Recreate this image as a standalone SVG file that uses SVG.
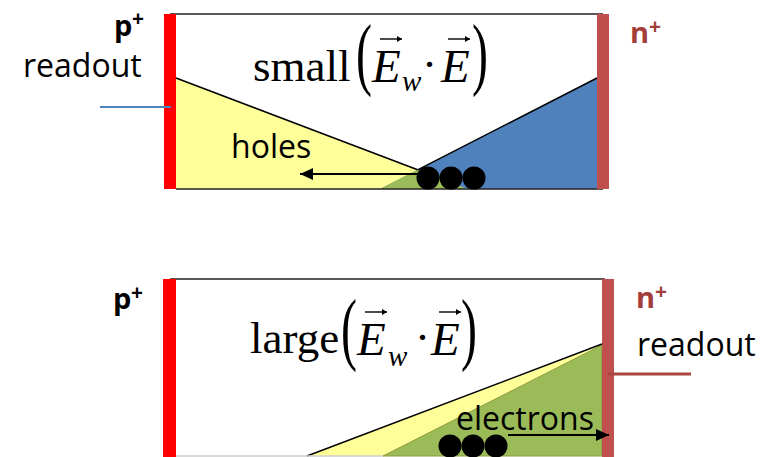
<svg xmlns="http://www.w3.org/2000/svg" width="782" height="457" viewBox="0 0 782 457">
<style>
.lbl{font-family:"Open Sans","Liberation Sans",sans-serif;font-size:32px;fill:#000}
.bold{font-family:"Open Sans","Liberation Sans",sans-serif;font-weight:bold;font-size:29px}
.sup{font-size:21px}
.pk{fill:#000}
.nk{fill:#A33E3B}
.rm{font-family:"Liberation Serif","Times New Roman",serif;font-size:45px;fill:#000}
.it{font-family:"Liberation Serif","Times New Roman",serif;font-style:italic;font-size:47px;fill:#000}
.sub{font-family:"Liberation Serif","Times New Roman",serif;font-style:italic;font-size:29px;fill:#000}
.par{font-family:"Liberation Serif","Times New Roman",serif;font-size:80px;fill:#000}
.vec{stroke:#000;stroke-width:1.4;fill:none}
.edge{stroke:#000;stroke-width:1.5;fill:none}
.box{stroke:#222;stroke-width:1.5}
.arr{stroke:#000;stroke-width:2;fill:none;marker-end:url(#ah)}
.dot{fill:#000}
.yel{fill:#FFFF99}
.blu{fill:#4F81BD}
.grn{fill:#9BBB59}
.pbar{fill:#FF0000}
.nbar{fill:#C0504D}
</style>
<defs>
<marker id="ah" markerUnits="userSpaceOnUse" markerWidth="14" markerHeight="12" refX="13" refY="6" orient="auto">
<path d="M0,0 L13,6 L0,12 Z" fill="#000"/>
</marker>
<marker id="vh" markerUnits="userSpaceOnUse" markerWidth="6" markerHeight="6" refX="5" refY="3" orient="auto">
<path d="M0,0 L5,3 L0,6 Z" fill="#000"/>
</marker>
</defs>

<!-- Top panel: small -->
<g id="top-panel">
  <polygon class="yel" points="176,78 468,189 176,189"/>
  <polygon class="blu" points="597,78 380,189 597,189"/>
  <polygon class="grn" points="380,189 417.6,169.8 468,189"/>
  <line class="edge" x1="176" y1="78" x2="417.6" y2="169.8"/>
  <line class="edge" x1="417.6" y1="169.8" x2="597" y2="78"/>
  <line class="box" x1="170" y1="14" x2="603" y2="14"/>
  <line class="box" x1="176" y1="189" x2="603" y2="189"/>
  <rect class="pbar" x="164" y="14" width="12" height="175"/>
  <rect class="nbar" x="597" y="14" width="12" height="175"/>
</g>
<g id="top-carriers">
  <circle class="dot" cx="428" cy="178" r="11.5"/>
  <circle class="dot" cx="451" cy="178" r="11.5"/>
  <circle class="dot" cx="474" cy="178" r="11.5"/>
</g>
<g id="top-labels">
  <text class="bold pk" x="114" y="36">p<tspan class="sup" x="132" y="26">+</tspan></text>
  <text class="lbl" x="23" y="77">readout</text>
  <text class="bold nk" x="630" y="43">n<tspan class="sup" x="649" y="34">+</tspan></text>
  <text class="lbl" x="231" y="158">holes</text>
</g>
<g id="top-equation">
  <text class="rm" x="253" y="81">small</text>
  <text class="par" transform="translate(356,80) scale(0.6,1)">(</text>
  <text class="it" x="372" y="82">E</text>
  <line class="vec" x1="380" y1="39" x2="402" y2="39" marker-end="url(#vh)"/>
  <text class="sub" x="402" y="91">w</text>
  <text class="rm" x="422" y="79">·</text>
  <text class="it" x="441" y="82">E</text>
  <line class="vec" x1="448" y1="39" x2="470" y2="39" marker-end="url(#vh)"/>
  <text class="par" transform="translate(472,80) scale(0.6,1)">)</text>
</g>

<!-- Bottom panel: large -->
<g id="bottom-panel">
  <polygon class="yel" points="602,345 307,456 602,456"/>
  <polygon class="grn" points="602,345 383,456 602,456" stroke="#8C9A3E" stroke-width="1"/>
  <line class="edge" x1="307" y1="456" x2="602" y2="344"/>
  <line class="box" x1="170" y1="279" x2="605" y2="279"/>
  <line x1="176" y1="456" x2="383" y2="456" stroke="#cccccc" stroke-width="1.5"/>
  <rect class="pbar" x="163" y="279" width="13" height="178"/>
  <rect class="nbar" x="602" y="279" width="12" height="178"/>
</g>
<g id="bottom-carriers">
  <circle class="dot" cx="450" cy="446" r="11.5"/>
  <circle class="dot" cx="473" cy="446" r="11.5"/>
  <circle class="dot" cx="496" cy="446" r="11.5"/>
</g>
<g id="bottom-labels">
  <text class="bold pk" x="113" y="309">p<tspan class="sup" x="131" y="300">+</tspan></text>
  <text class="bold nk" x="636" y="308">n<tspan class="sup" x="655" y="299">+</tspan></text>
  <text class="lbl" x="637" y="356">readout</text>
  <text class="lbl" x="456" y="430">electrons</text>
</g>
<g id="bottom-equation">
  <text class="rm" x="250" y="353">large</text>
  <text class="par" transform="translate(341,355) scale(0.6,1)">(</text>
  <text class="it" x="357" y="355">E</text>
  <line class="vec" x1="365" y1="312" x2="387" y2="312" marker-end="url(#vh)"/>
  <text class="sub" x="388" y="366">w</text>
  <text class="rm" x="415" y="352">·</text>
  <text class="it" x="431" y="355">E</text>
  <line class="vec" x1="439" y1="312" x2="461" y2="312" marker-end="url(#vh)"/>
  <text class="par" transform="translate(461,355) scale(0.6,1)">)</text>
</g>

<g id="connectors">
  <line x1="100" y1="107" x2="171" y2="107" stroke="#4F81BD" stroke-width="2"/>
  <line x1="608" y1="374" x2="691" y2="374" stroke="#A9443F" stroke-width="3"/>
  <line class="arr" x1="418" y1="174" x2="300" y2="174"/>
  <line class="arr" x1="508" y1="435" x2="609" y2="435"/>
</g>
</svg>
